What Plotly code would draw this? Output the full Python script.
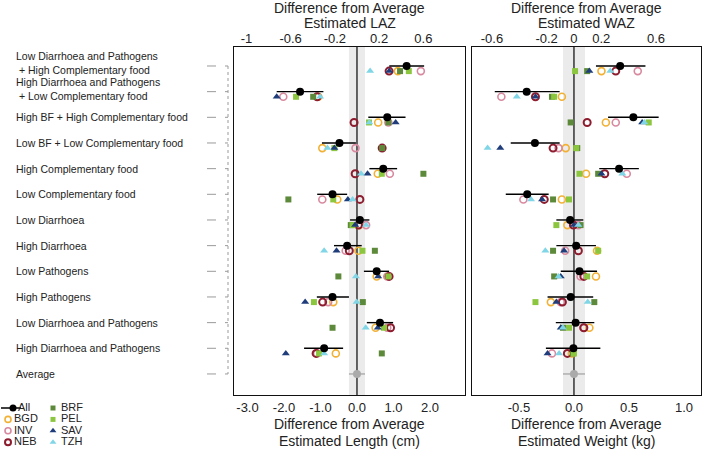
import plotly.graph_objects as go

# ---- data -------------------------------------------------------------
rows = [
    "Low Diarrhoea and Pathogens<br> + High Complementary food",
    "High Diarrhoea and Pathogens<br> + Low Complementary food",
    "High BF + High Complementary food",
    "Low BF + Low Complementary food",
    "High Complementary food",
    "Low Complementary food",
    "Low Diarrhoea",
    "High Diarrhoea",
    "Low Pathogens",
    "High Pathogens",
    "Low Diarrhoea and Pathogens",
    "High Diarrhoea and Pathogens",
    "Average",
]

# pooled estimate ("All") with interval, length in cm
all_len = [1.36, -1.56, 0.83, -0.48, 0.72, -0.67, 0.08, -0.27, 0.54, -0.67, 0.63, -0.90, 0.0]
all_len_lo = [0.885, -2.20, 0.31, -0.96, 0.34, -1.09, -0.19, -0.63, 0.19, -1.10, 0.27, -1.45, -0.22]
all_len_hi = [1.84, -0.92, 1.33, -0.03, 1.10, -0.27, 0.34, 0.13, 0.88, -0.22, 0.99, -0.38, 0.22]

# pooled estimate ("All") with interval, weight in kg
all_wt = [0.42, -0.43, 0.54, -0.355, 0.41, -0.425, -0.035, 0.02, 0.05, -0.03, 0.015, -0.005, 0.0]
all_wt_lo = [0.20, -0.72, 0.31, -0.575, 0.23, -0.62, -0.16, -0.16, -0.12, -0.24, -0.165, -0.255, -0.10]
all_wt_hi = [0.65, -0.13, 0.77, -0.13, 0.59, -0.23, 0.085, 0.20, 0.21, 0.175, 0.185, 0.24, 0.10]

# site estimates, length (cm), first 12 rows
len_bgd = [1.12, -1.06, 0.58, -0.95, 0.57, -0.54, 0.06, 0.04, 0.54, -0.65, 0.51, -0.58]
len_inv = [1.75, -2.02, 0.86, -0.04, 0.90, -0.95, 0.25, -0.31, 0.83, -0.79, 0.83, -1.09]
len_neb = [0.88, -1.09, -0.08, 0.69, -0.05, 0.08, 0.04, -0.21, 0.88, -0.94, 0.92, -1.12]
len_brf = [1.18, -1.20, 0.86, 0.69, 1.82, -1.88, -0.17, 0.49, -0.51, 0.16, -0.67, 0.68]
len_pel = [1.42, -1.67, 0.33, -0.62, 0.68, -0.65, -0.12, 0.15, 0.86, -1.18, 0.74, -1.04]
len_sav = [0.885, -2.20, 1.06, -0.62, 0.29, -0.25, -0.05, -0.56, 0.58, -1.42, 0.57, -1.95]
len_tzh = [0.36, -1.01, 0.34, -0.81, 0.11, -0.12, 0.25, -0.90, -0.03, -0.01, 0.24, -0.90]

# site estimates, weight (kg)
wt_bgd = [0.25, -0.11, 0.29, -0.075, 0.11, -0.11, -0.06, 0.21, 0.20, -0.21, 0.14, -0.02]
wt_inv = [0.58, -0.66, 0.38, -0.14, 0.48, -0.46, 0.04, -0.08, 0.06, -0.12, 0.085, -0.20]
wt_neb = [0.38, -0.35, 0.12, -0.19, 0.28, -0.27, -0.005, 0.04, 0.09, -0.105, 0.09, -0.06]
wt_brf = [0.12, -0.20, -0.03, 0.03, 0.22, -0.19, 0.06, -0.19, -0.18, 0.185, -0.10, -0.01]
wt_pel = [0.01, -0.18, 0.68, 0.02, 0.05, -0.045, -0.16, 0.22, 0.12, -0.35, -0.045, 0.0]
wt_sav = [0.14, -0.35, 0.62, -0.67, 0.25, -0.29, 0.0, -0.09, -0.12, -0.16, -0.12, -0.24]
wt_tzh = [0.33, -0.52, 0.64, -0.785, 0.44, -0.39, 0.04, -0.26, -0.14, 0.125, -0.10, -0.135]

sites = ["BGD", "INV", "NEB", "BRF", "PEL", "SAV", "TZH"]
site_len = [len_bgd, len_inv, len_neb, len_brf, len_pel, len_sav, len_tzh]
site_wt = [wt_bgd, wt_inv, wt_neb, wt_brf, wt_pel, wt_sav, wt_tzh]

len_ticks = [-3, -2, -1, 0, 1, 2]
laz_ticks = [-1, -0.6, -0.2, 0.2, 0.6]
wt_ticks = [-0.5, 0, 0.5, 1.0]
waz_ticks = [-0.6, -0.2, 0, 0.2, 0.6]

# ---- styling ----------------------------------------------------------
CM_PER_LAZ = 3.03
KG_PER_WAZ = 1.243
LEN_RANGE = [-3.37, 2.96]
WT_RANGE = [-0.927, 1.155]
LEN_BAND = 0.22
WT_BAND = 0.10

style = {
    "BGD": dict(symbol="circle-open", color="#f2b134", size=7, line=dict(width=1.6, color="#f2b134")),
    "INV": dict(symbol="circle-open", color="#d8899f", size=7, line=dict(width=1.6, color="#d8899f")),
    "NEB": dict(symbol="circle-open", color="#8c1c2e", size=7, line=dict(width=2, color="#8c1c2e")),
    "BRF": dict(symbol="square", color="#5c8a3a", size=6),
    "PEL": dict(symbol="square", color="#8cc63f", size=6),
    "SAV": dict(symbol="triangle-up", color="#1f3d7a", size=7),
    "TZH": dict(symbol="triangle-up", color="#80d6e6", size=7),
}

FONT = "Liberation Sans, Arial, sans-serif"
W, H = 703, 449
SITE_OFFSET = 0.2
n = len(rows)
y_all = list(range(n))
y_site = [i + SITE_OFFSET for i in range(n - 1)]

fig = go.Figure()


def add_panel(xa, ya, site_vals, est, lo, hi):
    for name, vals in zip(sites, site_vals):
        fig.add_trace(go.Scatter(
            x=vals, y=y_site, mode="markers", name=name,
            marker=style[name], xaxis=xa, yaxis=ya,
            showlegend=False, hoverinfo="x+name"))
    # pooled estimates
    fig.add_trace(go.Scatter(
        x=est[:-1], y=y_all[:-1], mode="markers", name="All",
        marker=dict(color="black", size=8),
        error_x=dict(type="data", symmetric=False,
                     array=[h - v for h, v in zip(hi[:-1], est[:-1])],
                     arrayminus=[v - l for v, l in zip(est[:-1], lo[:-1])],
                     color="black", thickness=1.4, width=0),
        xaxis=xa, yaxis=ya, showlegend=False))
    # average reference row in grey
    fig.add_trace(go.Scatter(
        x=est[-1:], y=y_all[-1:], mode="markers", name="Average",
        marker=dict(color="#aaaaaa", size=8),
        error_x=dict(type="data", symmetric=False,
                     array=[hi[-1] - est[-1]], arrayminus=[est[-1] - lo[-1]],
                     color="#aaaaaa", thickness=1.4, width=0),
        xaxis=xa, yaxis=ya, showlegend=False))


add_panel("x", "y", site_len, all_len, all_len_lo, all_len_hi)
add_panel("x2", "y2", site_wt, all_wt, all_wt_lo, all_wt_hi)

# empty traces so the secondary (top) axes get drawn
fig.add_trace(go.Scatter(x=[None], y=[None], xaxis="x3", yaxis="y", showlegend=False))
fig.add_trace(go.Scatter(x=[None], y=[None], xaxis="x4", yaxis="y2", showlegend=False))

# ---- hand-made legend (two columns under the labels) -------------------
leg_names = ["All"] + sites
leg_col_x = [8, 53]
leg_text_gap = [6, 8]
leg_row_gap = 11.4
leg_x, leg_y, leg_tx = [], [], []
for i, nm in enumerate(leg_names):
    c, r = divmod(i, 4)
    leg_x.append(leg_col_x[c] + (5 if nm == "All" else 0))
    leg_tx.append(leg_x[-1] + (5 if nm == "All" else leg_text_gap[c]))
    leg_y.append(8 + r * leg_row_gap)

fig.add_trace(go.Scatter(
    x=[leg_x[0] - 12, leg_x[0] + 8], y=[leg_y[0], leg_y[0]], mode="lines",
    line=dict(color="black", width=1.5), xaxis="x5", yaxis="y5",
    showlegend=False, hoverinfo="skip"))
for nm, lx, tx, ly in zip(leg_names, leg_x, leg_tx, leg_y):
    mk = dict(color="black", size=7) if nm == "All" else dict(style[nm])
    if nm != "All":
        mk["size"] = mk["size"] - 1
    fig.add_trace(go.Scatter(
        x=[lx], y=[ly], mode="markers", marker=mk, xaxis="x5", yaxis="y5",
        showlegend=False, hoverinfo="skip"))
    fig.add_trace(go.Scatter(
        x=[tx], y=[ly], mode="text", text=[nm],
        textposition="middle right", textfont=dict(size=11, color="#222"),
        xaxis="x5", yaxis="y5", showlegend=False, hoverinfo="skip"))

# ---- layout -----------------------------------------------------------
left_dom = [234 / W, 465 / W]
right_dom = [472 / W, 701 / W]
y_dom = [1 - 395 / H, 1 - 47 / H]
y_rng = [n - 1 + 0.82, -0.74]

box = dict(showline=True, mirror=True, linecolor="#111", linewidth=1.3,
           showgrid=False, zeroline=False, ticks="")
tick_font = dict(size=13, color="#222")

fig.update_layout(
    width=W, height=H,
    margin=dict(l=0, r=0, t=0, b=0),
    paper_bgcolor="white", plot_bgcolor="white",
    font=dict(family=FONT, color="#222"),
    xaxis=dict(domain=left_dom, range=LEN_RANGE, anchor="y",
               tickvals=len_ticks, ticktext=[f"{v:.1f}" for v in len_ticks],
               tickfont=tick_font, **box),
    xaxis3=dict(overlaying="x", side="top", anchor="y",
                range=[v / CM_PER_LAZ for v in LEN_RANGE],
                tickvals=laz_ticks, ticktext=[f"{v:g}" for v in laz_ticks],
                tickfont=tick_font, showline=False, showgrid=False,
                zeroline=False, ticks=""),
    yaxis=dict(domain=y_dom, range=y_rng, anchor="x", showticklabels=False, **box),
    xaxis2=dict(domain=right_dom, range=WT_RANGE, anchor="y2",
                tickvals=wt_ticks, ticktext=[f"{v:.1f}" for v in wt_ticks],
                tickfont=tick_font, **box),
    xaxis4=dict(overlaying="x2", side="top", anchor="y2",
                range=[v / KG_PER_WAZ for v in WT_RANGE],
                tickvals=waz_ticks, ticktext=[f"{v:g}" for v in waz_ticks],
                tickfont=tick_font, showline=False, showgrid=False,
                zeroline=False, ticks=""),
    yaxis2=dict(domain=y_dom, range=y_rng, anchor="x2", showticklabels=False, **box),
    xaxis5=dict(domain=[0, 110 / W], range=[0, 110], visible=False, anchor="y5"),
    yaxis5=dict(domain=[0, 49 / H], range=[49, 0], visible=False, anchor="x5"),
    showlegend=False,
)

shapes = []
for xr, yr, band in [("x", "y", LEN_BAND), ("x2", "y2", WT_BAND)]:
    shapes.append(dict(type="rect", xref=xr, yref=yr + " domain", x0=-band, x1=band,
                       y0=0, y1=1, fillcolor="#ebebeb", line=dict(width=0), layer="below"))
    shapes.append(dict(type="line", xref=xr, yref=yr + " domain", x0=0, x1=0,
                       y0=0, y1=1, line=dict(color="#333", width=1.5), layer="below"))

# leader lines from the row labels to the panel
lead_x0, lead_x1 = 207 / W, 228 / W
for i in range(n):
    shapes.append(dict(type="line", xref="paper", yref="y", x0=lead_x0, x1=lead_x1,
                       y0=i, y1=i, line=dict(color="#9a9a9a", width=1, dash="dash")))
shapes.append(dict(type="line", xref="paper", yref="y", x0=lead_x1, x1=lead_x1,
                   y0=0, y1=n - 1, line=dict(color="#9a9a9a", width=1, dash="dot")))
fig.update_layout(shapes=shapes)

annotations = []
for i, lab in enumerate(rows):
    annotations.append(dict(text=lab, xref="paper", yref="y", x=14 / W, y=i,
                            xanchor="left", yanchor="middle", showarrow=False,
                            align="left", yshift=3 if "<br>" in lab else 0,
                            font=dict(size=10.5, color="#222")))

# axis titles, one line per annotation so the spacing follows the reference
titles = [
    ("x domain", "Difference from Average", 8),
    ("x domain", "Estimated LAZ", 23.5),
    ("x2 domain", "Difference from Average", 8),
    ("x2 domain", "Estimated WAZ", 23.5),
    ("x domain", "Difference from Average", 424),
    ("x domain", "Estimated Length (cm)", 441),
    ("x2 domain", "Difference from Average", 424),
    ("x2 domain", "Estimated Weight (kg)", 441),
]
for xr, txt, ypx in titles:
    annotations.append(dict(text=txt, xref=xr, yref="paper", x=0.5, y=1 - ypx / H,
                            xanchor="center", yanchor="middle", showarrow=False,
                            borderpad=0, font=dict(size=14, color="#222")))
fig.update_layout(annotations=annotations)

# the page body has a default 8px margin; drop it so the figure fills the window
fig.write_html("out.html", config={"displayModeBar": False},
               post_script="document.body.style.margin='0';")
